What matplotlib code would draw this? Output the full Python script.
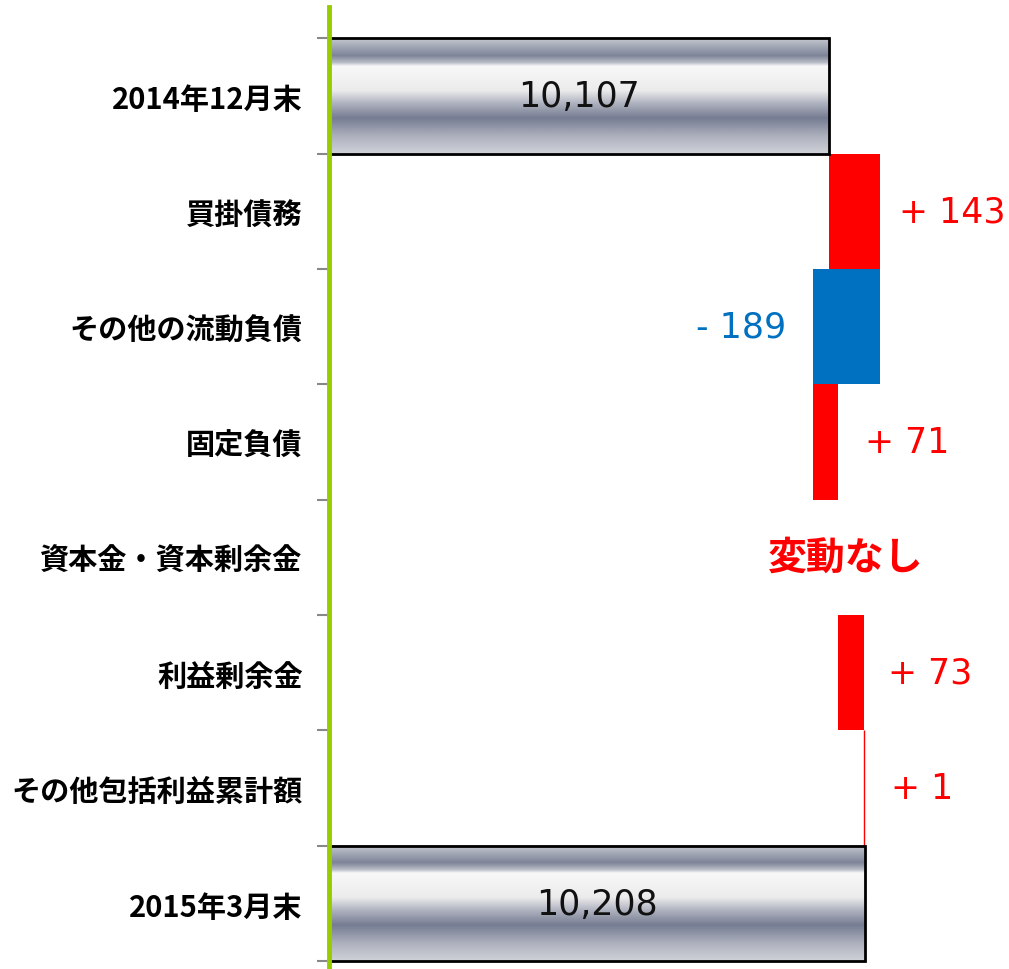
import numpy as np
import matplotlib.pyplot as plt
from matplotlib.colors import LinearSegmentedColormap

plt.rcParams['font.family'] = ['Noto Sans CJK JP', 'DejaVu Sans']

# データ
categories = ["2014年12月末", "買掛債務", "その他の流動負債", "固定負債",
              "資本金・資本剰余金", "利益剰余金", "その他包括利益累計額", "2015年3月末"]
start_total = 10107
end_total = 10208
changes = [143, -189, 71, 0, 73, 1]
change_labels = ["+ 143", "- 189", "+ 71", "変動なし", "+ 73", "+ 1"]

red = "#ff0000"
blue = "#0070c0"
green = "#99cc00"

# ラベルの横方向のずれ（ピクセル）
label_gap_px = [19, 26, 27, -70, 24, 27]

# メタリック調のグラデーション
metal = LinearSegmentedColormap.from_list("metal", [
    (0.00, "#c4c8d0"), (0.15, "#7e8498"), (0.21, "#b8bcc6"), (0.24, "#f8f8f8"),
    (0.45, "#ececec"), (0.56, "#b0b4c0"), (0.69, "#767c92"), (0.85, "#aeb2be"),
    (1.00, "#d0d2d8")])
grad = np.linspace(0, 1, 256).reshape(-1, 1)

fig = plt.figure(figsize=(10.09, 9.70), dpi=100)
ax = fig.add_axes([329 / 1009, 2 / 970, 680 / 1009, 960 / 970])

per_px = 2.806
xmin, xmax = 8704, 8704 + 680 * per_px
ax.set_xlim(xmin, xmax)
ax.set_ylim(7.55, -0.77)


def metal_bar(y, value, text):
    ax.imshow(grad, cmap=metal, aspect="auto", extent=(xmin, value, y + 0.5, y - 0.5),
              zorder=2, interpolation="bilinear")
    ax.add_patch(plt.Rectangle((xmin, y - 0.5), value - xmin, 1, fill=False,
                               edgecolor="black", lw=2, zorder=3))
    ax.text((xmin + value) / 2, y, text, ha="center", va="center", fontsize=25,
            family=["DejaVu Sans"], color="#111111", zorder=4)


metal_bar(0, start_total, f"{start_total:,}")
metal_bar(7, end_total, f"{end_total:,}")

running = start_total
for i, (c, lab, gap) in enumerate(zip(changes, change_labels, label_gap_px), start=1):
    left = running if c >= 0 else running + c
    color = red if c >= 0 else blue
    if c != 0:
        ax.barh(i, abs(c), left=left, height=1.0, color=color, edgecolor=color,
                lw=1 if abs(c) < 3 else 0, zorder=2)
    if c > 0:
        ax.text(running + c + gap * per_px, i, lab, ha="left", va="center",
                fontsize=25, family=["DejaVu Sans"], color=red)
    elif c < 0:
        ax.text(left - gap * per_px, i, lab, ha="right", va="center", fontsize=25,
                family=["DejaVu Sans"], color=blue)
    else:
        ax.text(running + gap * per_px, i, lab, ha="left", va="center",
                fontsize=28, fontweight="bold", color=red)
    running += c

ax.set_yticks(range(len(categories)))
ax.set_yticklabels(categories, fontsize=21, fontweight="bold")
ax.tick_params(axis="y", which="major", length=0, pad=19)
ax.set_yticks(np.arange(-0.5, len(categories)), minor=True)
ax.tick_params(axis="y", which="minor", length=9, width=1.5, color="#888888")
ax.set_xticks([])

for s in ["top", "right", "bottom"]:
    ax.spines[s].set_visible(False)
ax.spines["left"].set_color(green)
ax.spines["left"].set_linewidth(3.5)
ax.spines["left"].set_zorder(5)

fig.savefig("out.png", dpi=100)
